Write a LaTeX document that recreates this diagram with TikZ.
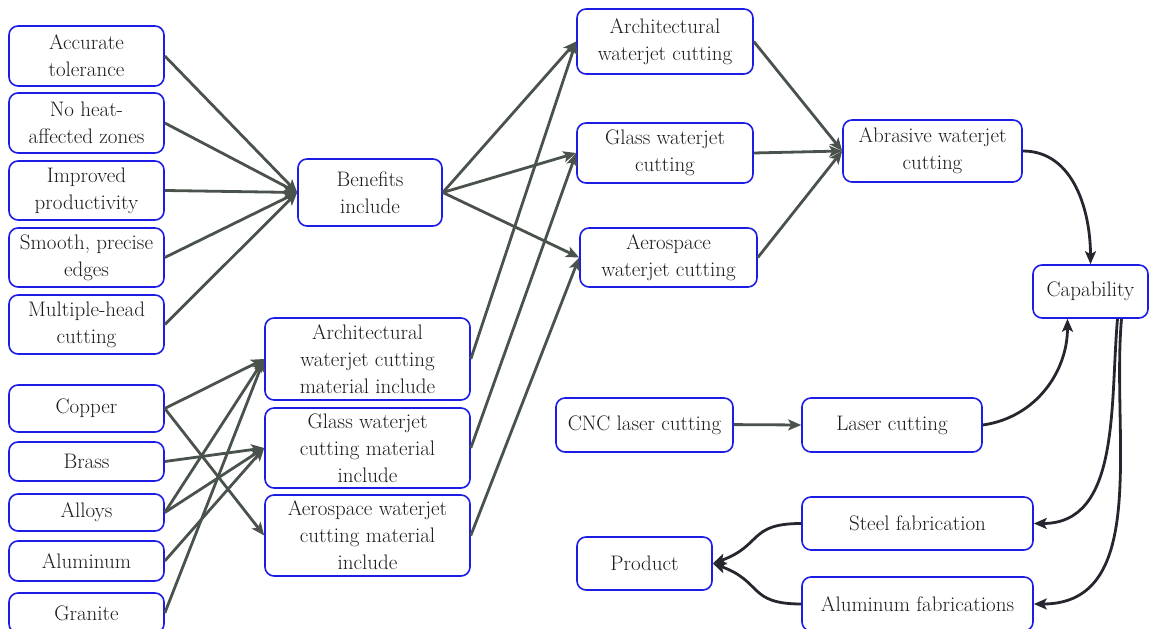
\documentclass[tikz,border=0pt]{standalone}
\usetikzlibrary{arrows.meta}
\definecolor{boxblue}{RGB}{28,28,228}
\definecolor{txtgray}{RGB}{28,28,28}
\definecolor{linkgray}{RGB}{74,82,76}
\definecolor{linkdark}{RGB}{38,38,46}
\tikzset{
  box/.style={draw=boxblue, line width=1.6pt, rounded corners=9pt, fill=white,
    align=center, inner sep=1pt, text=txtgray,
    font=\rmfamily\fontsize{21}{27}\selectfont},
  graylink/.style={draw=linkgray, line width=2.8pt,
    -{Stealth[length=13pt,width=11pt,inset=3pt]}},
  darklink/.style={draw=linkdark, line width=2.8pt,
    -{Stealth[length=13pt,width=11pt,inset=3pt]}}
}
\begin{document}
\begin{tikzpicture}[x=1pt,y=1pt]
\useasboundingbox (0,0) rectangle (1149,629);

% benefits column
\node[box, minimum width=155, minimum height=60] (acc) at (86.5,573) {Accurate\\tolerance};
\node[box, minimum width=155, minimum height=60] (heat) at (86.5,506) {No heat-\\affected zones};
\node[box, minimum width=155, minimum height=59] (prodv) at (86.5,438.5) {Improved\\productivity};
\node[box, minimum width=155, minimum height=59] (smooth) at (86.5,371.5) {Smooth, precise\\edges};
\node[box, minimum width=155, minimum height=59] (multi) at (86.5,304.5) {Multiple-head\\cutting};
\node[box, minimum width=144, minimum height=67] (ben) at (370,436.5) {Benefits\\include};

% materials column
\node[box, minimum width=155, minimum height=47] (copper) at (86.5,220.5) {Copper};
\node[box, minimum width=155, minimum height=39] (brass) at (86.5,167.5) {Brass};
\node[box, minimum width=155, minimum height=37] (alloys) at (86.5,116.5) {Alloys};
\node[box, minimum width=155, minimum height=40] (alum) at (86.5,68) {Aluminum};
\node[box, minimum width=155, minimum height=40] (granite) at (86.5,16) {Granite};

\node[box, minimum width=205, minimum height=82] (archmat) at (367.5,270) {Architectural\\waterjet cutting\\material include};
\node[box, minimum width=205, minimum height=80] (glassmat) at (367.5,181) {Glass waterjet\\cutting material\\include};
\node[box, minimum width=205, minimum height=81] (aeromat) at (367.5,93.5) {Aerospace waterjet\\cutting material\\include};

% cutting applications
\node[box, minimum width=176, minimum height=65] (archcut) at (665,587.5) {Architectural\\waterjet cutting};
\node[box, minimum width=176, minimum height=60] (glasscut) at (665,476) {Glass waterjet\\cutting};
\node[box, minimum width=177, minimum height=59] (aerocut) at (668.5,371.5) {Aerospace\\waterjet cutting};
\node[box, minimum width=179, minimum height=62] (abr) at (932.5,478) {Abrasive waterjet\\cutting};
\node[box, minimum width=115, minimum height=53] (cap) at (1090.5,337.5) {Capability};

\node[box, minimum width=177, minimum height=54] (cnc) at (644.5,204) {CNC laser cutting};
\node[box, minimum width=180, minimum height=54] (laser) at (892,204) {Laser cutting};
\node[box, minimum width=231, minimum height=53] (steel) at (917.5,105.5) {Steel fabrication};
\node[box, minimum width=231, minimum height=54] (alufab) at (917.5,25) {Aluminum fabrications};
\node[box, minimum width=135, minimum height=53] (product) at (644.5,65.5) {Product};

% benefits into the summary node
\foreach \s in {acc,heat,prodv,smooth,multi}
  \draw[graylink] (\s.east) -- (ben.west);
\draw[graylink] (ben.east) -- (archcut.west);
\draw[graylink] (ben.east) -- (glasscut.west);
\draw[graylink] (ben.east) -- (aerocut.west);

% materials
\draw[graylink] (copper.east) -- (archmat.west);
\draw[graylink] (copper.east) -- (aeromat.west);
\draw[graylink] (brass.east) -- (glassmat.west);
\draw[graylink] (alloys.east) -- (archmat.west);
\draw[graylink] (alloys.east) -- (glassmat.west);
\draw[graylink] (alum.east) -- (glassmat.west);
\draw[graylink] (granite.east) -- (archmat.west);

\draw[graylink] (archmat.east) -- (archcut.west);
\draw[graylink] (glassmat.east) -- (glasscut.west);
\draw[graylink] (aeromat.east) -- (aerocut.west);

% applications into abrasive cutting
\draw[graylink] (archcut.east) -- (abr.west);
\draw[graylink] (glasscut.east) -- (abr.west);
\draw[graylink] (aerocut.east) -- (abr.west);

\draw[graylink] ([yshift=0.4pt]cnc.east) -- (laser.west);

% capability links
\draw[darklink] (abr.east) to[out=0,in=90] (cap.north);
\draw[darklink] (laser.east) to[out=8,in=-90] ([xshift=-23pt]cap.south);
\draw[darklink] ([xshift=27pt]cap.south) to[out=-95,in=0] (steel.east);
\draw[darklink] ([xshift=31pt]cap.south) to[out=-95,in=0] (alufab.east);

% fabrications into product
\draw[darklink] (steel.west) to[out=180,in=20,looseness=1.4] (product.east);
\draw[darklink] (alufab.west) to[out=180,in=-20,looseness=1.4] (product.east);
\end{tikzpicture}
\end{document}
